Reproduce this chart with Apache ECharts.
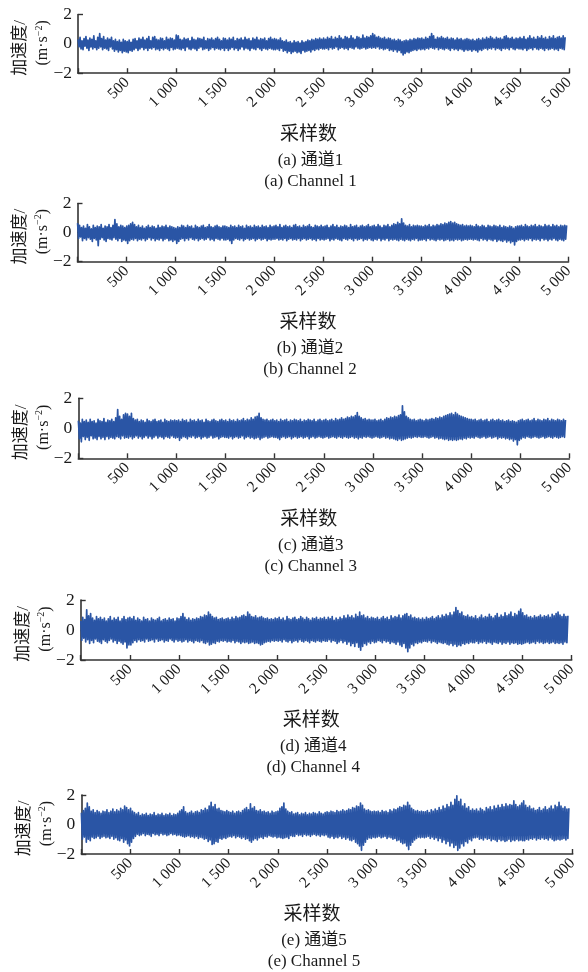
<!DOCTYPE html>
<html>
<head>
<meta charset="utf-8">
<title>加速度信号</title>
<script src="https://cdn.jsdelivr.net/npm/echarts@6/dist/echarts.min.js"></script>
<style>
  html, body { margin: 0; padding: 0; background: #fff; }
  #chart { width: 588px; height: 972px; }
</style>
</head>
<body>
<div id="chart"></div>
<script>
// Acceleration records of five channels (m·s^-2), given as alternating
// local peaks and troughs, one value every 10 samples starting at sample 1.
// Each line of values covers 500 samples.
const sampleStep = 10;

const channel1 = [
  .3,-.2,.45,-.35,.2,-.4,.35,-.15,.5,-.3,.25,-.45,.4,-.2,.3,-.35,.55,-.25,.2,-.4,.45,-.3,.7,-.2,.35,-.4,.5,-.3,.25,-.35,.4,-.45,.3,-.2,.45,-.35,.2,-.5,.3,-.4,.15,-.55,.25,-.45,.1,-.6,.3,-.5,.2,-.55,
  .15,-.6,.25,-.45,.1,-.5,.3,-.4,.35,-.3,.2,-.45,.4,-.35,.3,-.25,.45,-.4,.25,-.3,.35,-.45,.5,-.3,.2,-.35,.45,-.25,.5,-.4,.3,-.35,.25,-.45,.4,-.3,.35,-.4,.2,-.3,.45,-.35,.3,-.45,.4,-.25,.35,-.4,.25,-.35,
  .6,-.3,.55,-.35,.3,-.4,.25,-.3,.4,-.45,.3,-.2,.35,-.35,.2,-.4,.45,-.3,.3,-.35,.25,-.45,.4,-.3,.35,-.2,.3,-.4,.45,-.35,.2,-.3,.35,-.45,.3,-.35,.4,-.25,.25,-.4,.35,-.3,.45,-.35,.3,-.4,.2,-.3,.4,-.45,
  .35,-.3,.25,-.45,.4,-.35,.3,-.25,.45,-.4,.2,-.3,.35,-.45,.3,-.35,.4,-.2,.25,-.4,.45,-.3,.3,-.35,.35,-.45,.2,-.3,.4,-.35,.3,-.4,.45,-.25,.25,-.35,.35,-.45,.3,-.3,.4,-.35,.2,-.4,.35,-.3,.45,-.35,.3,-.4,
  .35,-.4,.3,-.35,.25,-.45,.4,-.3,.2,-.5,.15,-.45,.25,-.6,.1,-.5,.15,-.65,.05,-.55,.2,-.5,.1,-.6,.15,-.55,.05,-.65,.2,-.45,.1,-.55,.15,-.5,.25,-.45,.2,-.55,.3,-.4,.25,-.45,.35,-.35,.3,-.4,.4,-.3,.3,-.35,
  .4,-.35,.3,-.3,.45,-.4,.35,-.25,.5,-.35,.3,-.3,.45,-.2,.35,-.4,.55,-.3,.4,-.25,.3,-.35,.5,-.3,.45,-.4,.35,-.25,.55,-.3,.4,-.35,.3,-.2,.5,-.3,.45,-.35,.35,-.3,.6,-.25,.4,-.35,.5,-.3,.45,-.25,.55,-.3,
  .7,-.25,.6,-.3,.45,-.2,.5,-.35,.4,-.3,.35,-.4,.45,-.35,.3,-.3,.4,-.45,.35,-.4,.25,-.5,.3,-.4,.2,-.55,.3,-.45,.25,-.6,.15,-.75,.2,-.65,.25,-.55,.2,-.6,.3,-.5,.25,-.45,.35,-.4,.3,-.45,.4,-.35,.35,-.4,
  .4,-.35,.3,-.4,.45,-.3,.35,-.35,.5,-.25,.7,-.3,.55,-.35,.3,-.25,.45,-.4,.4,-.3,.5,-.35,.4,-.4,.35,-.3,.45,-.35,.3,-.45,.4,-.3,.35,-.4,.25,-.35,.4,-.45,.3,-.35,.35,-.4,.25,-.5,.3,-.4,.35,-.45,.3,-.4,
  .25,-.5,.3,-.4,.2,-.45,.3,-.55,.35,-.4,.25,-.45,.4,-.35,.3,-.3,.45,-.4,.35,-.3,.5,-.35,.4,-.25,.3,-.4,.45,-.3,.35,-.35,.4,-.45,.3,-.3,.5,-.35,.55,-.3,.4,-.4,.35,-.25,.45,-.35,.3,-.4,.4,-.3,.35,-.35,
  .45,-.35,.35,-.4,.5,-.3,.3,-.45,.4,-.35,.55,-.3,.35,-.4,.45,-.25,.3,-.35,.5,-.4,.4,-.3,.55,-.35,.35,-.45,.45,-.3,.3,-.4,.5,-.35,.4,-.3,.55,-.4,.35,-.35,.45,-.45,.5,-.3,.4,-.35,.55,-.4,.45
];

const channel2 = [
  .65,-.4,.5,-.3,.35,-.55,.45,-.4,.3,-.5,.55,-.35,.4,-.45,.25,-.6,.5,-.4,.35,-.5,.45,-.9,.4,-.45,.55,-.35,.3,-.5,.45,-.6,.4,-.4,.55,-.45,.35,-.5,.5,-.35,.9,-.45,.6,-.55,.4,-.4,.5,-.6,.45,-.5,.35,-.55,
  .45,-.75,.5,-.55,.6,-.45,.7,-.5,.55,-.4,.4,-.55,.5,-.45,.35,-.5,.45,-.4,.3,-.55,.4,-.45,.5,-.35,.35,-.5,.45,-.4,.4,-.55,.3,-.45,.5,-.5,.35,-.4,.45,-.55,.4,-.45,.5,-.4,.35,-.55,.45,-.5,.4,-.6,.35,-.5,
  .3,-.75,.4,-.6,.35,-.45,.5,-.4,.45,-.55,.35,-.4,.5,-.5,.4,-.35,.45,-.45,.3,-.5,.5,-.4,.4,-.55,.35,-.45,.45,-.4,.5,-.5,.35,-.45,.4,-.35,.55,-.5,.4,-.45,.35,-.55,.45,-.4,.5,-.45,.4,-.5,.35,-.4,.45,-.5,
  .45,-.5,.4,-.45,.35,-.55,.5,-.75,.4,-.5,.45,-.4,.35,-.45,.5,-.5,.4,-.4,.45,-.55,.3,-.45,.5,-.4,.4,-.5,.45,-.45,.35,-.4,.5,-.55,.4,-.45,.45,-.4,.35,-.5,.5,-.45,.4,-.4,.45,-.55,.35,-.45,.5,-.5,.4,-.45,
  .45,-.45,.5,-.4,.4,-.5,.55,-.45,.35,-.5,.45,-.4,.5,-.55,.4,-.45,.45,-.4,.35,-.5,.5,-.45,.55,-.5,.4,-.4,.45,-.55,.35,-.45,.5,-.4,.4,-.5,.45,-.45,.55,-.4,.4,-.5,.35,-.45,.5,-.55,.45,-.4,.4,-.5,.5,-.45,
  .4,-.5,.45,-.45,.5,-.4,.35,-.55,.45,-.45,.55,-.5,.4,-.4,.5,-.45,.35,-.5,.45,-.55,.4,-.4,.5,-.45,.45,-.5,.35,-.4,.55,-.45,.4,-.55,.45,-.4,.5,-.5,.35,-.45,.45,-.4,.5,-.55,.4,-.45,.45,-.5,.55,-.4,.4,-.5,
  .45,-.55,.5,-.45,.4,-.5,.55,-.4,.45,-.55,.35,-.45,.5,-.5,.45,-.4,.55,-.55,.4,-.45,.5,-.5,.6,-.45,.55,-.5,.7,-.55,.6,-.45,.95,-.5,.65,-.55,.5,-.45,.45,-.5,.55,-.55,.4,-.45,.5,-.5,.45,-.4,.5,-.55,.45,-.5,
  .45,-.5,.4,-.45,.5,-.55,.45,-.4,.55,-.5,.4,-.45,.5,-.5,.45,-.55,.55,-.45,.5,-.5,.6,-.45,.55,-.55,.65,-.5,.6,-.45,.7,-.55,.75,-.5,.65,-.55,.7,-.45,.6,-.5,.55,-.45,.5,-.55,.55,-.5,.45,-.45,.5,-.5,.45,-.45,
  .5,-.45,.45,-.5,.4,-.45,.55,-.5,.45,-.55,.4,-.4,.5,-.5,.45,-.45,.35,-.55,.5,-.45,.45,-.5,.4,-.55,.5,-.45,.45,-.6,.4,-.5,.5,-.55,.35,-.6,.45,-.5,.4,-.65,.35,-.55,.45,-.7,.4,-.6,.3,-.85,.4,-.6,.45,-.5,
  .45,-.5,.5,-.45,.4,-.55,.55,-.45,.45,-.5,.4,-.4,.5,-.55,.45,-.45,.55,-.5,.4,-.45,.5,-.55,.45,-.4,.4,-.5,.55,-.45,.45,-.55,.5,-.45,.4,-.5,.55,-.4,.45,-.5,.5,-.55,.4,-.45,.5,-.5,.45,-.55,.5,-.45,.5
];

const channel3 = [
  .5,-.7,.35,-.9,.6,-.55,.45,-.75,.55,-.6,.4,-.8,.6,-.5,.45,-.7,.5,-.65,.35,-.75,.6,-.55,.5,-.7,.45,-.6,.65,-.75,.4,-.55,.55,-.7,.5,-.6,.6,-.65,.45,-.7,.7,-.55,1.25,-.6,.8,-.7,.6,-.5,.9,-.65,1.0,-.6,
  .95,-.65,.8,-.55,1.0,-.7,.65,-.6,.55,-.5,.6,-.65,.45,-.55,.55,-.7,.5,-.6,.4,-.5,.6,-.65,.5,-.55,.45,-.7,.55,-.6,.6,-.5,.45,-.65,.5,-.55,.55,-.6,.4,-.7,.6,-.55,.5,-.6,.45,-.65,.55,-.5,.5,-.6,.55,-.65,
  .5,-.6,.55,-.8,.45,-.65,.6,-.55,.5,-.6,.55,-.7,.4,-.55,.6,-.6,.5,-.5,.55,-.65,.45,-.6,.6,-.55,.5,-.7,.55,-.6,.4,-.55,.6,-.65,.5,-.6,.45,-.5,.55,-.65,.6,-.6,.5,-.55,.45,-.7,.55,-.6,.6,-.55,.5,-.6,
  .55,-.6,.45,-.65,.6,-.55,.5,-.7,.55,-.6,.45,-.55,.6,-.65,.5,-.6,.55,-.5,.65,-.7,.5,-.6,.6,-.55,.55,-.65,.7,-.6,.6,-.7,.75,-.65,.8,-.6,1.0,-.75,.7,-.65,.6,-.6,.55,-.55,.6,-.65,.5,-.6,.55,-.55,.6,-.6,
  .5,-.6,.55,-.65,.45,-.75,.6,-.6,.5,-.55,.55,-.65,.6,-.6,.45,-.55,.55,-.7,.5,-.6,.6,-.55,.55,-.65,.5,-.6,.6,-.55,.45,-.65,.55,-.6,.5,-.55,.6,-.7,.55,-.6,.5,-.55,.6,-.65,.45,-.6,.55,-.55,.6,-.6,.5,-.65,
  .55,-.6,.6,-.55,.5,-.65,.55,-.6,.6,-.55,.5,-.6,.65,-.65,.55,-.55,.6,-.6,.7,-.65,.6,-.55,.65,-.6,.75,-.65,.7,-.6,.8,-.55,.75,-.65,.85,-.6,1.05,-.7,.8,-.6,.7,-.65,.6,-.55,.65,-.6,.55,-.55,.6,-.6,.55,-.65,
  .55,-.6,.6,-.55,.5,-.6,.55,-.65,.6,-.6,.5,-.55,.6,-.65,.7,-.6,.65,-.7,.75,-.65,.7,-.7,.8,-.75,.75,-.8,.85,-.7,.9,-.8,1.5,-.75,1.1,-.7,.8,-.65,.7,-.6,.6,-.65,.55,-.6,.6,-.55,.5,-.6,.55,-.55,.6,-.6,
  .55,-.6,.5,-.55,.6,-.6,.55,-.65,.6,-.6,.65,-.55,.6,-.65,.7,-.6,.65,-.7,.75,-.65,.7,-.7,.8,-.75,.85,-.7,.9,-.8,.95,-.75,1.0,-.8,.9,-.75,1.05,-.8,.95,-.75,.85,-.7,.8,-.75,.75,-.65,.7,-.7,.65,-.6,.6,-.65,
  .6,-.6,.55,-.65,.6,-.55,.5,-.6,.55,-.65,.6,-.6,.5,-.55,.55,-.65,.6,-.6,.45,-.55,.55,-.65,.6,-.6,.5,-.55,.55,-.7,.6,-.6,.5,-.65,.55,-.6,.45,-.7,.5,-.65,.55,-.75,.45,-.7,.5,-.85,.45,-.75,.4,-1.1,.5,-.8,
  .55,-.7,.6,-.6,.5,-.65,.55,-.55,.6,-.6,.5,-.65,.55,-.6,.65,-.55,.5,-.6,.6,-.65,.55,-.6,.5,-.55,.6,-.65,.55,-.6,.65,-.55,.5,-.6,.6,-.65,.55,-.55,.5,-.6,.6,-.65,.55,-.6,.5,-.55,.6,-.6,.55
];

const channel4 = [
  .6,-.7,.85,-.55,.7,-.8,1.35,-.65,.95,-.9,1.1,-.7,.8,-.85,.65,-.6,.9,-.75,.75,-.8,.85,-.9,.7,-.65,.8,-.75,.6,-.85,.75,-.7,.9,-.6,.65,-.8,.8,-.7,.7,-.9,.85,-.75,.6,-.85,.75,-.95,.9,-.8,.7,-1.2,.8,-1.0,
  .85,-1.0,.75,-.85,.9,-.7,.65,-.8,.8,-.65,.7,-.75,.6,-.7,.85,-.8,.7,-.6,.75,-.75,.6,-.7,.8,-.65,.7,-.8,.65,-.6,.75,-.75,.85,-.7,.6,-.65,.7,-.8,.75,-.7,.65,-.75,.8,-.6,.7,-.7,.75,-.8,.6,-.65,.8,-.75,
  .75,-.7,.9,-.8,1.1,-.75,.85,-.65,.7,-.8,.8,-.7,.65,-.75,.75,-.85,.7,-.7,.8,-.75,.75,-.8,.9,-.7,.85,-.85,1.0,-.9,.95,-.8,1.2,-1.0,1.05,-.95,.9,-.85,.8,-.9,.85,-.75,.7,-.8,.75,-.7,.8,-.75,.7,-.7,.75,-.8,
  .8,-.75,.7,-.8,.85,-.7,.75,-.85,.9,-.75,.8,-.8,.85,-.9,.95,-.8,1.0,-.85,.9,-.8,1.2,-.9,1.05,-.85,.9,-.8,.85,-.9,.95,-.85,.8,-.9,.85,-1.0,.9,-.95,.8,-.85,.75,-.8,.8,-.75,.7,-.8,.75,-.7,.7,-.75,.8,-.7,
  .75,-.75,.85,-.7,.7,-.8,.8,-.65,.65,-.75,.9,-.8,.75,-.7,.7,-.85,.8,-.75,.85,-.7,.7,-.8,.75,-.65,.9,-.75,.8,-.8,.7,-.7,.85,-.75,.75,-.85,.65,-.7,.8,-.75,.75,-.8,.85,-.7,.7,-.75,.8,-.8,.75,-.7,.85,-.75,
  .7,-.75,.85,-.65,.75,-.8,.9,-.7,.65,-.75,.8,-.9,.7,-.8,.85,-.7,.75,-.85,.95,-.75,.8,-.95,1.0,-.8,.85,-1.05,.95,-.9,.8,-1.1,1.05,-.85,.9,-1.15,1.2,-1.35,.95,-1.1,1.0,-.9,.8,-1.0,.9,-.8,.75,-.9,.85,-.75,.8,-.85,
  .75,-.8,.85,-.7,.7,-.75,.8,-.85,.9,-.7,.75,-.8,.85,-.75,.7,-.9,.95,-.8,.8,-.85,.9,-.95,.85,-.8,1.0,-1.0,.8,-1.1,.95,-.9,1.05,-1.2,1.1,-1.45,.9,-1.2,1.0,-.95,.8,-1.05,.85,-.85,.75,-.9,.8,-.8,.7,-.85,.8,-.75,
  .7,-.75,.85,-.8,.75,-.7,.8,-.85,.9,-.75,.75,-.8,.85,-.9,.95,-.8,.8,-.85,1.0,-.9,.9,-.85,1.05,-.95,.95,-1.0,1.15,-.9,1.0,-1.05,1.2,-.95,1.5,-1.1,1.3,-1.0,1.1,-1.05,1.2,-.9,.95,-.95,.9,-.85,1.0,-.9,.85,-.8,.9,-.85,
  .8,-.85,.95,-.75,.75,-.9,.85,-.8,1.0,-.85,.8,-.75,.9,-.9,.85,-.8,1.05,-.85,.9,-.95,.8,-.8,.95,-.85,1.1,-.9,.85,-.8,1.0,-.95,.9,-.85,1.15,-.9,.95,-.8,1.05,-.95,1.2,-.85,.9,-.9,1.1,-.85,1.0,-.95,1.25,-.9,1.4,-.95,
  1.15,-.9,.95,-.85,1.0,-.8,.85,-.9,.9,-.85,.8,-.8,.95,-.9,.85,-.75,.9,-.85,1.0,-.8,.85,-.9,.95,-.85,.9,-.8,1.0,-.9,.85,-.85,1.05,-.8,.95,-.9,1.1,-.85,1.2,-.9,1.0,-.85,.9,-.95,1.05,-.8,.9,-.85,.95
];

const channel5 = [
  .8,-1.0,.95,-.85,1.1,-1.2,1.45,-1.0,1.2,-1.1,.9,-.85,1.0,-.95,.8,-.9,.95,-.8,.85,-.95,.75,-.85,.9,-.8,.85,-.9,1.0,-.85,.8,-.95,.9,-.8,1.05,-1.0,.85,-.9,1.0,-1.05,.9,-1.1,1.1,-.95,1.0,-1.2,1.25,-1.05,1.15,-1.3,1.0,-1.45,
  1.1,-1.2,.9,-.95,.8,-.8,.7,-.65,.8,-.75,.6,-.7,.7,-.6,.65,-.75,.75,-.65,.6,-.7,.7,-.8,.65,-.6,.8,-.7,.6,-.65,.7,-.75,.65,-.6,.75,-.7,.6,-.65,.7,-.75,.65,-.7,.75,-.6,.6,-.7,.7,-.65,.65,-.75,.75,-.7,
  .9,-.75,1.0,-.8,1.2,-.85,.85,-.8,.75,-.75,.8,-.85,.9,-.8,.75,-.9,.85,-.8,.9,-.95,.8,-.85,1.0,-.9,.95,-1.0,1.1,-.95,1.0,-1.15,1.25,-1.05,1.5,-1.35,1.2,-1.3,1.35,-1.15,1.05,-1.2,1.1,-.95,.95,-1.0,.9,-.9,.85,-.95,.95,-.85,
  .85,-.8,.8,-.85,.9,-.75,.75,-.9,.85,-.8,.9,-.85,.8,-.95,.95,-.85,1.05,-1.0,1.15,-.95,1.0,-1.1,1.4,-1.2,1.1,-1.05,1.2,-.95,.95,-1.05,.9,-.9,1.0,-.85,.85,-.95,.9,-.8,.8,-.85,.85,-.75,.75,-.8,.9,-.85,.8,-.8,.85,-.9,
  .9,-.85,1.1,-.9,1.2,-.95,1.45,-.9,1.05,-.85,.9,-.95,.8,-.75,.85,-.8,.7,-.8,.75,-.65,.8,-.75,.65,-.7,.75,-.8,.7,-.65,.8,-.75,.65,-.7,.75,-.8,.7,-.7,.8,-.65,.75,-.75,.7,-.7,.85,-.8,.75,-.7,.7,-.75,.8,-.7,
  .85,-.85,.8,-.9,.9,-.8,.85,-.95,.8,-.85,.95,-.9,.85,-.8,.9,-.95,1.0,-.85,.9,-1.0,.95,-.9,1.05,-1.05,1.0,-1.1,1.15,-1.0,1.1,-1.2,1.25,-1.3,1.2,-1.45,1.45,-1.75,1.3,-1.4,1.05,-1.2,.95,-1.0,1.0,-.9,.9,-.95,.85,-.85,.9,-.9,
  .85,-.85,.9,-.8,.8,-.9,.95,-.85,.85,-.8,.9,-.95,.8,-.85,1.0,-.9,.9,-1.0,1.05,-.95,1.0,-1.1,1.1,-1.05,1.2,-1.2,1.15,-1.3,1.3,-1.25,1.25,-1.45,1.5,-1.7,1.3,-1.4,1.1,-1.2,1.0,-1.05,.9,-.95,.95,-.85,.85,-.9,.9,-.85,.85,-.9,
  .85,-.85,.95,-.8,.8,-.95,1.0,-.85,.9,-1.0,1.05,-.9,.95,-1.1,1.15,-.95,1.0,-1.2,1.25,-1.05,1.1,-1.3,1.35,-1.15,1.2,-1.45,1.5,-1.25,1.3,-1.55,1.7,-1.4,1.95,-1.75,1.55,-1.6,1.7,-1.3,1.25,-1.45,1.4,-1.15,1.1,-1.25,1.2,-1.0,.95,-1.1,1.05,-.9,
  .95,-.9,1.05,-.85,.9,-1.0,1.1,-.95,1.0,-1.05,.9,-.9,1.15,-1.0,1.05,-.95,1.2,-1.1,1.0,-1.0,1.25,-1.05,1.1,-1.15,1.3,-1.0,1.15,-1.1,1.35,-1.05,1.2,-1.15,1.4,-1.1,1.25,-1.0,1.35,-1.15,1.3,-1.05,1.6,-1.1,1.35,-1.0,1.2,-1.1,1.3,-1.05,1.45,-1.1,
  1.6,-1.1,1.3,-1.0,1.15,-1.05,1.25,-.95,1.05,-1.0,1.1,-.9,.95,-1.05,1.0,-.95,1.15,-1.0,.95,-.9,1.05,-1.0,1.2,-.95,1.0,-1.05,1.1,-.9,1.25,-1.0,1.05,-1.1,1.3,-1.05,1.2,-1.0,1.5,-1.05,1.25,-1.0,1.1,-.95,1.2,-1.05,1.05,-.95,1.1
];

const channels = [channel1, channel2, channel3, channel4, channel5];
const captionsCn = ['(a) 通道1', '(b) 通道2', '(c) 通道3', '(d) 通道4', '(e) 通道5'];
const captionsEn = ['(a) Channel 1', '(b) Channel 2', '(c) Channel 3', '(d) Channel 4', '(e) Channel 5'];
const xTickStep = 500;
const yTicks = [-2, 0, 2];
const xAxisTitle = '采样数';
const yAxisTitle = '加速度/';
const yAxisUnit = '{u|(m·s}{sup|−2}{u|)}';

// panel frames (plot area in px)
const frames = [
  { left: 78.0, top: 14.5, width: 491, height: 58.7 },
  { left: 77.5, top: 203.5, width: 491, height: 58.2 },
  { left: 78.3, top: 398.3, width: 491, height: 60 },
  { left: 80.7, top: 600, width: 491, height: 60 },
  { left: 81.3, top: 795, width: 491.4, height: 59 }
];

const SERIF = '"Liberation Serif", "Noto Sans CJK SC", serif';
const INK = '#1a1a1a';
const AXIS = '#333333';
const LINE = '#2a55a5';

function fmtThousands(v) {
  const s = String(v);
  return s.length > 3 ? s.slice(0, s.length - 3) + ' ' + s.slice(-3) : s;
}

const grid = [], xAxis = [], yAxis = [], series = [], graphic = [];

channels.forEach((vals, i) => {
  const f = frames[i];
  grid.push({ left: f.left, top: f.top, width: f.width, height: f.height, outerBoundsMode: 'none' });

  xAxis.push({
    gridIndex: i, type: 'value', min: 0, max: 5000, interval: xTickStep,
    name: xAxisTitle, nameLocation: 'middle', nameGap: 52,
    nameTextStyle: { fontFamily: SERIF, fontSize: 19, color: INK, padding: [0, 30, 0, 0] },
    axisLine: { show: true, onZero: false, lineStyle: { color: AXIS, width: 1.6 } },
    axisTick: { show: true, inside: true, length: 5, lineStyle: { color: AXIS, width: 1.4 } },
    axisLabel: {
      rotate: 45, margin: 7, fontFamily: SERIF, fontSize: 15.5, color: INK,
      showMaxLabel: true,
      formatter: v => (v === 0 ? '' : fmtThousands(v))
    },
    splitLine: { show: false }
  });

  yAxis.push({
    gridIndex: i, type: 'value', min: yTicks[0], max: yTicks[yTicks.length - 1], interval: 2,
    axisLine: { show: true, onZero: false, lineStyle: { color: AXIS, width: 1.6 } },
    axisTick: { show: true, inside: true, length: 5, lineStyle: { color: AXIS, width: 1.4 } },
    axisLabel: {
      margin: 6, fontFamily: SERIF, fontSize: 17.5, color: INK,
      formatter: v => (v < 0 ? '−' + Math.abs(v) : String(v))
    },
    splitLine: { show: false }
  });

  series.push({
    type: 'line', xAxisIndex: i, yAxisIndex: i,
    data: vals.map((v, k) => [1 + k * sampleStep, v]),
    showSymbol: false, sampling: 'none', silent: true,
    lineStyle: { color: LINE, width: 1.7, join: 'round' },
    z: 2
  });

  // rotated y-axis title: quantity and unit on two columns
  const midY = f.top + f.height / 2;
  graphic.push({
    type: 'text', x: f.left - 57, y: midY + 4, rotation: Math.PI / 2, silent: true,
    style: { text: yAxisTitle, fontFamily: SERIF, fontSize: 17, fill: INK, align: 'center', verticalAlign: 'middle' }
  });
  graphic.push({
    type: 'text', x: f.left - 35, y: midY - 1, rotation: Math.PI / 2, silent: true,
    style: {
      text: yAxisUnit, align: 'center', verticalAlign: 'middle',
      rich: {
        u: { fontFamily: SERIF, fontSize: 16, fill: INK, lineHeight: 18 },
        sup: { fontFamily: SERIF, fontSize: 10, fill: INK, lineHeight: 18, verticalAlign: 'top', padding: [0, 0, 8, 0] }
      }
    }
  });

  const bottom = f.top + f.height;
  const cx = f.left + f.width / 2 - 13;
  graphic.push({
    type: 'text', x: cx, y: bottom + 87, silent: true,
    style: { text: captionsCn[i], fontFamily: SERIF, fontSize: 17, fill: INK, align: 'center', verticalAlign: 'middle' }
  });
  graphic.push({
    type: 'text', x: cx, y: bottom + 108, silent: true,
    style: { text: captionsEn[i], fontFamily: SERIF, fontSize: 17, fill: INK, align: 'center', verticalAlign: 'middle' }
  });
});

const chart = echarts.init(document.getElementById('chart'), null, { renderer: 'canvas' });
chart.setOption({
  animation: false,
  backgroundColor: '#ffffff',
  grid, xAxis, yAxis, series, graphic
});
</script>
</body>
</html>
